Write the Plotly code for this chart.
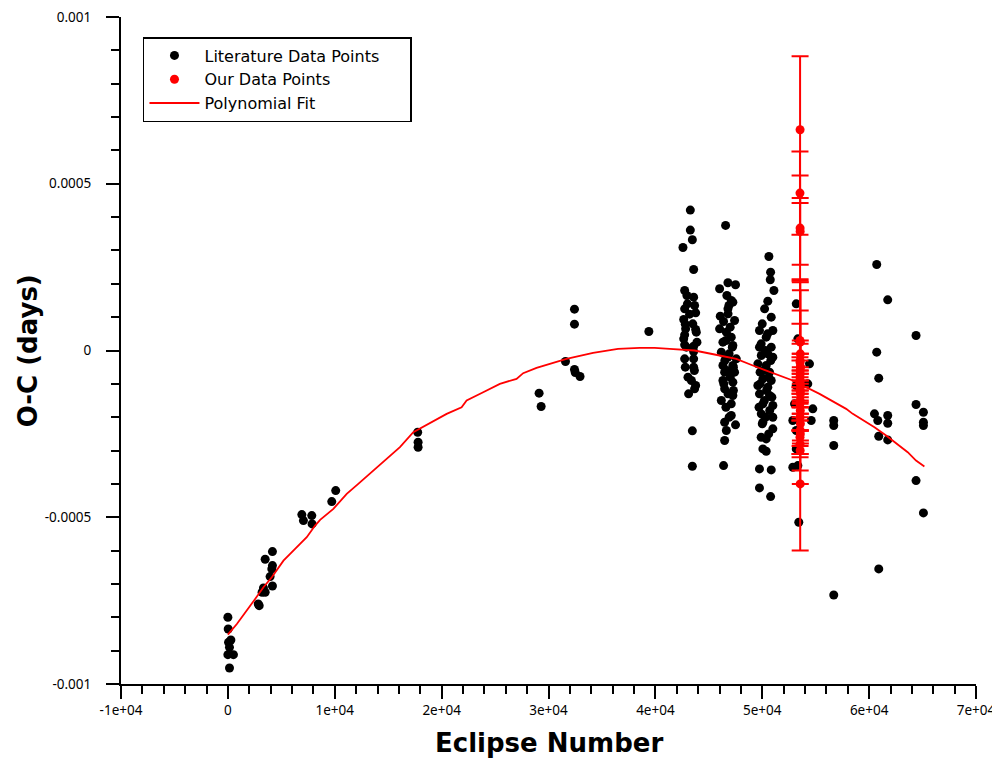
import plotly.graph_objects as go

# ---------------- data ----------------
lit_x = [
    0, 30, 60, 280, 150, 0, 520, 150,
    3490, 4170, 4170, 4110, 3950, 4170, 3330, 3200, 3490, 2930, 2840,
    6920, 7070, 7850, 7880,
    9720, 10090,
    17760, 17800, 17800,
    29120, 29310,
    31590,
    32430, 32430, 32430, 32500, 32950,
    39390,
    # ~43000 cluster
    43270, 43270, 43460, 42580, 43580, 42740, 42950, 43580, 43670, 42740,
    43200, 43770, 42650, 42800, 42830, 43770, 42740, 43830, 43890, 42650,
    42740, 43580, 43580, 42740, 43580, 43580, 43050, 43370, 43770, 43670,
    43110, 43460, 43460, 43000, 43500, 42900, 43650, 42800,
    # ~47000 cluster
    46570, 46010, 46790, 47500, 46690, 47100, 46880, 47250, 46790, 46070,
    46380, 47410, 46010, 46640, 47100, 46320, 47250, 46170, 46790, 47570,
    46320, 47250, 46480, 47410, 46320, 47250, 46480, 47250, 46170, 47100,
    46480, 47500, 46640, 46480, 46380,
    46800, 47000, 46600, 47200, 46900, 46500, 47300, 46700, 47000, 46400,
    47300, 46800, 47100, 46600, 46900,
    # ~50000 cluster
    50620, 50780, 50750, 51090, 50520, 50220, 50840, 49740, 50990, 50370,
    49740, 50840, 50520, 49910, 50990, 49590, 50370, 49800, 50680, 50060,
    50840, 49590, 50520, 49740, 50680, 50060, 50990, 49910, 50990, 50060,
    50990, 50370, 50060, 50370, 49740, 50840, 49740, 50780,
    50000, 50500, 49900, 50300, 50800, 50100, 50600, 49800, 50400, 50900,
    50200, 49700, 50700, 50300, 50000, 50600, 49900,
    # ~53500 (under our points)
    53180, 53330, 54420, 53180, 54260, 53020, 54730, 54580, 52860, 53180,
    53180, 53330, 52860, 53420,
    # beyond 55000
    60710, 61740, 64390, 60710, 60900, 64390, 65080, 60500, 60810, 61740,
    61740, 65080, 65080, 56690, 56690, 56690, 60900, 61740, 64390, 65080,
    60900, 56690,
]
lit_y = [
    -0.000800, -0.000835, -0.000875, -0.000868, -0.000890, -0.000912, -0.000912, -0.000952,
    -0.000626, -0.000603, -0.000645, -0.000655, -0.000678, -0.000706, -0.000712, -0.000725, -0.000725, -0.000765, -0.000760,
    -0.000492, -0.000510, -0.000495, -0.000520,
    -0.000453, -0.000420,
    -0.000245, -0.000275, -0.000290,
    -0.000128, -0.000168,
    -0.000033,
    0.000124, 0.000079, -0.000057, -0.000066, -0.000078,
    0.000057,
    # ~43000 cluster
    0.000421, 0.000361, 0.000332, 0.000309, 0.000243, 0.000180, 0.000165, 0.000160, 0.000135, 0.000125,
    0.000109, 0.000113, 0.000093, 0.000079, 0.000065, 0.000063, 0.000047, 0.000055, 0.000025, 0.000035,
    0.000017, 0.000013, -0.000003, -0.000025, -0.000025, -0.000050, -0.000080, -0.000090, -0.000105, -0.000115,
    -0.000130, -0.000241, -0.000347, 0.000140, 0.000080, 0.000010, -0.000060, -0.000050,
    # ~47000 cluster
    0.000375, 0.000185, 0.000203, 0.000197, 0.000165, 0.000150, 0.000135, 0.000145, 0.000125, 0.000103,
    0.000087, 0.000090, 0.000065, 0.000055, 0.000040, 0.000025, 0.000015, -0.000005, -0.000020, -0.000025,
    -0.000045, -0.000045, -0.000065, -0.000065, -0.000090, -0.000095, -0.000115, -0.000135, -0.000150, -0.000195,
    -0.000215, -0.000223, -0.000240, -0.000270, -0.000345,
    0.000110, 0.000070, 0.000030, 0.000010, -0.000010, -0.000030, -0.000050, -0.000060, -0.000080, -0.000100,
    -0.000120, -0.000130, -0.000160, -0.000170, -0.000200,
    # ~50000 cluster
    0.000282, 0.000235, 0.000212, 0.000180, 0.000148, 0.000125, 0.000100, 0.000060, 0.000060, 0.000040,
    0.000010, 0.000010, -0.000010, -0.000015, -0.000020, -0.000040, -0.000045, -0.000065, -0.000065, -0.000085,
    -0.000090, -0.000105, -0.000110, -0.000130, -0.000135, -0.000160, -0.000165, -0.000190, -0.000200, -0.000215,
    -0.000235, -0.000265, -0.000295, -0.000302, -0.000355, -0.000358, -0.000412, -0.000438,
    0.000080, 0.000050, 0.000020, 0.000000, -0.000030, -0.000060, -0.000080, -0.000100, -0.000120, -0.000140,
    -0.000150, -0.000170, -0.000180, -0.000200, -0.000220, -0.000250, -0.000260,
    # ~53500
    0.000140, 0.000035, -0.000040, -0.000105, -0.000100, -0.000160, -0.000175, -0.000210, -0.000210, -0.000240,
    -0.000295, -0.000345, -0.000350, -0.000515,
    # beyond 55000
    0.000258, 0.000152, 0.000045, -0.000005, -0.000083, -0.000162, -0.000185, -0.000190, -0.000210, -0.000195,
    -0.000218, -0.000215, -0.000225, -0.000210, -0.000225, -0.000285, -0.000257, -0.000268, -0.000390, -0.000487,
    -0.000655, -0.000733,
]

our_x = [
    53540, 53530, 53540, 53550,
    53560, 53540, 53570, 53550, 53530, 53560, 53540, 53570, 53550, 53530,
    53560, 53540, 53570, 53550, 53530, 53560, 53540, 53570, 53550, 53530,
    53560, 53540, 53550, 53560, 53540, 53550,
]
our_y = [
    0.000662, 0.000472, 0.000367, 0.000357,
    0.000025, -0.000036, -0.000049, -0.000060, 0.000030, -0.000010, -0.000030, -0.000050, -0.000070, -0.000080,
    -0.000100, -0.000120, -0.000130, -0.000150, -0.000160, -0.000180, -0.000200, -0.000220, -0.000240, -0.000260,
    -0.000250, -0.000280, -0.000300, -0.000120, -0.000090, -0.000400,
]
our_err = [
    0.000220, 0.000125, 0.000158, 0.000100,
    0.000180, 0.000250, 0.000230, 0.000180, 0.000050, 0.000040, 0.000050, 0.000040, 0.000060, 0.000050,
    0.000040, 0.000050, 0.000060, 0.000040, 0.000050, 0.000060, 0.000040, 0.000050, 0.000070, 0.000050,
    0.000150, 0.000040, 0.000060, 0.000030, 0.000030, 0.000200,
]

fit_x = [0, 840, 2550, 3330, 4110, 5200, 6290, 7380, 8160, 8630, 9870, 11120, 12200,
         14200, 16100, 17350, 18910, 20470, 21870, 22340, 23890, 25450, 27010, 27630,
         28880, 30120, 31680, 34170, 35420, 36500, 38530, 39930, 41340, 43670, 46010,
         47570, 49120, 52860, 55360, 57850, 58470, 60500, 61590, 63610, 64390, 65170]
fit_y = [-0.000852, -0.000820, -0.000745, -0.000710, -0.000680, -0.000630, -0.000595,
         -0.000560, -0.000525, -0.000508, -0.000475, -0.000430, -0.000400, -0.000345,
         -0.000290, -0.000245, -0.000218, -0.000190, -0.000170, -0.000150, -0.000125,
         -0.000100, -0.000085, -0.000068, -0.000052, -0.000040, -0.000025, -0.000007,
         0.000000, 0.000005, 0.000008, 0.000008, 0.000005, 0.000000, -0.000015,
         -0.000025, -0.000045, -0.000090, -0.000130, -0.000175, -0.000190, -0.000230,
         -0.000255, -0.000305, -0.000330, -0.000348]

x_tickvals = [-10000, 0, 10000, 20000, 30000, 40000, 50000, 60000, 70000]
x_ticktext = ["-1e+04", "0", "1e+04", "2e+04", "3e+04", "4e+04", "5e+04", "6e+04", "7e+04"]
y_tickvals = [-0.001, -0.0005, 0, 0.0005, 0.001]
y_ticktext = ["-0.001", "-0.0005", "0", "0.0005", "0.001"]

series_names = ["Literature Data Points", "Our Data Points", "Polynomial Fit"]
x_title = "Eclipse Number"
y_title = "O-C (days)"

# ---------------- figure ----------------
pad = "\u00a0" * 5
fig = go.Figure()
fig.add_trace(go.Scatter(
    x=lit_x, y=lit_y, mode="markers", name=series_names[0] + pad,
    marker=dict(color="black", size=9),
))
fig.add_trace(go.Scatter(
    x=our_x, y=our_y, mode="markers", name=series_names[1],
    marker=dict(color="red", size=9),
    error_y=dict(type="data", array=our_err, visible=True, color="red",
                 thickness=2, width=8.5),
))
fig.add_trace(go.Scatter(
    x=fit_x, y=fit_y, mode="lines", name=series_names[2],
    line=dict(color="red", width=1.8),
))

tick_font = dict(family="Noto Sans", size=13.5, color="black")
title_font = dict(family="DejaVu Sans", size=26, color="black", weight="bold")

# page body adds an 8px margin, so the figure is offset by 8px
fig.update_layout(
    width=992, height=754,
    margin=dict(l=113, r=24, t=9, b=78),
    paper_bgcolor="white", plot_bgcolor="white",
    showlegend=True,
    legend=dict(
        x=0.0257, y=0.97, xanchor="left", yanchor="top",
        bordercolor="black", borderwidth=1.5, bgcolor="white",
        font=dict(family="DejaVu Sans", size=16, color="black"),
        tracegroupgap=0, itemwidth=50,
    ),
    xaxis=dict(
        range=[-10000, 70000], showgrid=False, zeroline=False, automargin=False,
        showline=True, linecolor="black", linewidth=2,
        ticks="outside", ticklen=13, tickwidth=2, tickcolor="black",
        tickvals=x_tickvals, ticktext=x_ticktext, tickfont=tick_font,
        ticklabeloverflow="allow",
        minor=dict(dtick=2000, ticks="outside", ticklen=8, tickwidth=2,
                   tickcolor="black", showgrid=False),
    ),
    yaxis=dict(
        range=[-0.001, 0.001], showgrid=False, zeroline=False, automargin=False,
        showline=True, linecolor="black", linewidth=2,
        ticks="outside", ticklen=13, tickwidth=2, tickcolor="black",
        tickvals=y_tickvals, ticktext=y_ticktext, tickfont=tick_font,
        ticklabelstandoff=12, ticklabeloverflow="allow",
        minor=dict(dtick=0.0001, ticks="outside", ticklen=8, tickwidth=2,
                   tickcolor="black", showgrid=False),
    ),
    annotations=[
        dict(text=x_title, xref="paper", yref="paper", x=0.5, y=-0.0885,
             xanchor="center", yanchor="middle", showarrow=False, font=title_font),
        dict(text=y_title, xref="paper", yref="paper", x=-0.109, y=0.5,
             xanchor="center", yanchor="middle", showarrow=False,
             textangle=-90, font=title_font),
    ],
)

fig.write_html("out.html")
